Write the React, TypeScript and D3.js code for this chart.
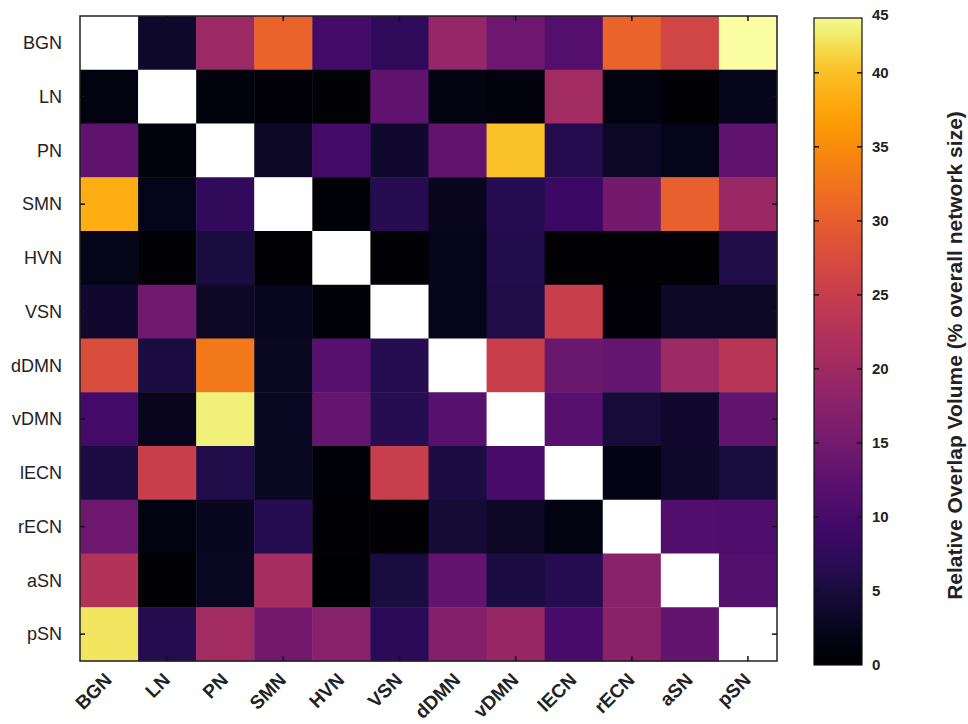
import * as d3 from 'd3'
import React from 'react'

// network names (rows = source, columns = target)
const networks = ['BGN', 'LN', 'PN', 'SMN', 'HVN', 'VSN', 'dDMN', 'vDMN', 'lECN', 'rECN', 'aSN', 'pSN']

// relative overlap volume, % of overall network size (null = diagonal)
const rowBGN = [null, 3.6, 19.7, 30.5, 9.6, 7.5, 19.0, 14.5, 11.5, 30.5, 26.3, 44.5]
const rowLN = [1.3, null, 1.1, 0.8, 0.4, 12.8, 1.4, 1.2, 20.5, 1.4, 0.4, 2.3]
const rowPN = [12.7, 1.1, null, 3.3, 9.7, 3.8, 12.9, 40.2, 6.4, 3.0, 2.2, 12.7]
const rowSMN = [38.5, 2.2, 7.6, null, 0.6, 6.6, 2.4, 6.5, 8.7, 15.2, 30.2, 19.5]
const rowHVN = [2.2, 0.4, 5.1, 0.4, null, 0.4, 2.1, 6.1, 0.5, 0.4, 0.4, 5.7]
const rowVSN = [3.7, 14.8, 3.2, 2.6, 0.6, null, 2.1, 5.8, 25.2, 0.9, 3.2, 3.0]
const rowdDMN = [27.6, 5.3, 33.0, 2.8, 11.8, 6.6, null, 25.3, 14.0, 13.3, 19.8, 23.3]
const rowvDMN = [9.6, 2.4, 43.0, 2.9, 13.5, 6.6, 11.8, null, 11.9, 4.7, 3.8, 13.2]
const rowlECN = [5.3, 25.3, 5.7, 2.9, 0.6, 25.0, 5.2, 10.4, null, 1.7, 3.6, 5.1]
const rowrECN = [14.5, 1.3, 2.6, 6.6, 0.4, 0.4, 4.5, 3.2, 1.3, null, 11.2, 11.0]
const rowaSN = [22.5, 0.4, 2.8, 21.0, 0.1, 5.0, 13.2, 5.3, 6.4, 17.5, null, 11.5]
const rowpSN = [42.3, 6.4, 20.5, 15.1, 17.3, 7.0, 17.0, 19.3, 10.1, 17.8, 13.1, null]

const matrix = [rowBGN, rowLN, rowPN, rowSMN, rowHVN, rowVSN, rowdDMN, rowvDMN, rowlECN, rowrECN, rowaSN, rowpSN]

const barMax = 43.7 // value at the top edge of the colour bar
const cbTicks = [0, 5, 10, 15, 20, 25, 30, 35, 40, 45]
const cbTitle = 'Relative Overlap Volume (% overall network size)'

const W = 968, H = 724
const left = 80, top = 16, right = 777, bottom = 661
const cbX = 814, cbW = 48, cbTop = 18, cbBottom = 665
const font = "'Liberation Sans', Arial, Helvetica, sans-serif"

// value -> position along inferno (the map gets paler quickly above 40)
const tScale = d3.scaleLinear().domain([0, 40, barMax, 45]).range([0, 0.851, 0.98, 1]).clamp(true)
const color = (v: number) => d3.interpolateInferno(tScale(v))

export default function App() {
  const x = d3.scaleBand<string>().domain(networks).range([left, right])
  const y = d3.scaleBand<string>().domain(networks).range([top, bottom])
  const cb = d3.scaleLinear().domain([0, barMax]).range([cbBottom, cbTop]).clamp(true)
  const tickNets = networks.filter((d, i) => i % 2 === 1)
  const stops = d3.range(0, 1.0001, 0.025)

  return (
    <svg width={W} height={H} style={{ position: 'absolute', left: 0, top: 0 }} fontFamily={font}>
      <defs>
        <linearGradient id="cbgrad" x1="0" y1="1" x2="0" y2="0">
          {stops.map(s => <stop key={s} offset={s} stopColor={color(s * barMax)} />)}
        </linearGradient>
      </defs>
      {matrix.map((row, i) => row.map((v, j) => (
        <rect key={i + '-' + j} x={x(networks[j])} y={y(networks[i])}
          width={x.bandwidth() + 0.5} height={y.bandwidth() + 0.5}
          fill={v == null ? '#ffffff' : color(v)} />
      )))}
      <rect x={left} y={top} width={right - left} height={bottom - top} fill="none" stroke="#222" strokeWidth={1.5} />
      {tickNets.map(n => {
        const cx = x(n)! + x.bandwidth() / 2
        const cy = y(n)! + y.bandwidth() / 2
        return (
          <g key={n} stroke="#111" strokeWidth={1.5}>
            <line x1={cx} x2={cx} y1={top} y2={top + 5} />
            <line x1={cx} x2={cx} y1={bottom} y2={bottom - 5} />
            <line x1={left} x2={left + 5} y1={cy} y2={cy} />
            <line x1={right} x2={right - 5} y1={cy} y2={cy} />
          </g>
        )
      })}
      {networks.map(n => (
        <text key={'y' + n} x={62} y={y(n)! + y.bandwidth() / 2} dy="0.35em" textAnchor="end"
          fontSize={18} fill="#222">{n}</text>
      ))}
      {networks.map(n => {
        const px = x(n)! + x.bandwidth() / 2 + 4
        const py = 681
        return (
          <text key={'x' + n} transform={`translate(${px},${py}) rotate(-45)`} textAnchor="end"
            fontSize={19} fontWeight="bold" fill="#222">{n}</text>
        )
      })}
      <rect x={cbX} y={cbTop} width={cbW} height={cbBottom - cbTop} fill="url(#cbgrad)" stroke="#111" strokeWidth={1.2} />
      {cbTicks.map(t => (
        <g key={'cb' + t}>
          {t > 0 && t < 45 && (
            <g stroke="#111" strokeWidth={1.5}>
              <line x1={cbX} x2={cbX + 5} y1={cb(t)} y2={cb(t)} />
              <line x1={cbX + cbW} x2={cbX + cbW - 5} y1={cb(t)} y2={cb(t)} />
            </g>
          )}
          <text x={cbX + cbW + 10} y={cb(t) - (t === 45 ? 3 : 0)} dy="0.35em" fontSize={15}
            fontWeight="bold" fill="#222">{t}</text>
        </g>
      ))}
      <text transform={`translate(955,${(cbTop + cbBottom) / 2 + 14}) rotate(-90)`} textAnchor="middle"
        dy="0.35em" fontSize={21} fontWeight="bold" fill="#222">{cbTitle}</text>
    </svg>
  )
}
